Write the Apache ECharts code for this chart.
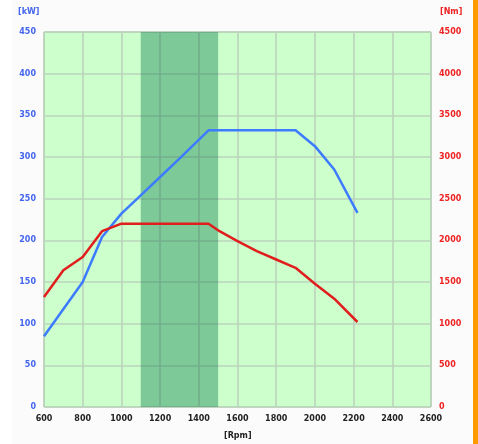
<!DOCTYPE html>
<html><head><meta charset="utf-8">
<script src="https://cdn.jsdelivr.net/npm/echarts@6/dist/echarts.min.js"></script>
<style>html,body{margin:0;padding:0;background:#fff}#c{width:478px;height:444px}</style>
</head><body><div id="c"></div>
<script>
const powerRpm = [600, 800, 900, 1000, 1100, 1200, 1300, 1450, 1900, 2000, 2100, 2220];
const powerKW  = [85, 150, 204, 232, 254, 276, 298, 332, 332, 313, 285, 233];
const torqueRpm = [600, 700, 800, 900, 1000, 1450, 1500, 1600, 1700, 1800, 1900, 2000, 2100, 2220];
const torqueNm  = [1320, 1640, 1800, 2110, 2200, 2200, 2120, 1990, 1870, 1770, 1670, 1480, 1300, 1020];
const rpmTicks = [600, 800, 1000, 1200, 1400, 1600, 1800, 2000, 2200, 2400, 2600];
const kwTicks = [0, 50, 100, 150, 200, 250, 300, 350, 400, 450];
const nmTicks = [0, 500, 1000, 1500, 2000, 2500, 3000, 3500, 4000, 4500];
const bandRange = [1100, 1500];

const chart = echarts.init(document.getElementById('c'), null, {renderer: 'canvas'});
const lblFont = {fontFamily: 'DejaVu Sans', fontWeight: 'bold', fontSize: 8};
const gridLine = {show: true, lineStyle: {color: '#bcd3bc', width: 1.6}};
const plain = v => String(v);
chart.setOption({
  animation: false,
  backgroundColor: '#fff',
  graphic: [
    {type: 'rect', shape: {x: 12, y: 0, width: 461, height: 444}, style: {fill: '#fbfbfb'}, z: -10},
    {type: 'rect', shape: {x: 473, y: 0, width: 5, height: 444}, style: {fill: '#ff9900'}, z: 10},
    {type: 'text', left: 18, top: 8, style: Object.assign({text: '[kW]', fill: '#4466ee'}, lblFont)},
    {type: 'text', left: 440, top: 8, style: Object.assign({text: '[Nm]', fill: '#ee2222'}, lblFont)},
    {type: 'text', left: 224, top: 432, style: Object.assign({text: '[Rpm]', fill: '#222'}, lblFont)}
  ],
  grid: {left: 44, right: 47, top: 32, bottom: 37, show: true, backgroundColor: '#ccffcc', borderColor: '#a3bda3', borderWidth: 1},
  xAxis: {
    type: 'value', min: rpmTicks[0], max: rpmTicks[rpmTicks.length - 1], interval: 200,
    axisLine: {show: false}, axisTick: {show: false},
    splitLine: gridLine,
    axisLabel: Object.assign({color: '#222', margin: 8, formatter: plain}, lblFont)
  },
  yAxis: [
    {type: 'value', min: 0, max: kwTicks[kwTicks.length - 1], interval: 50,
     axisLine: {show: false}, axisTick: {show: false}, splitLine: gridLine,
     axisLabel: Object.assign({color: '#4466ee', margin: 8, formatter: plain}, lblFont)},
    {type: 'value', min: 0, max: nmTicks[nmTicks.length - 1], interval: 500,
     axisLine: {show: false}, axisTick: {show: false}, splitLine: {show: false},
     axisLabel: Object.assign({color: '#ee2222', margin: 8, formatter: plain}, lblFont)}
  ],
  series: [
    {name: 'Power', type: 'line', yAxisIndex: 0, symbol: 'none', z: 3,
     lineStyle: {color: '#3d7bff', width: 2.5},
     data: powerRpm.map((r, i) => [r, powerKW[i]])},
    {name: 'Torque', type: 'line', yAxisIndex: 1, symbol: 'none', z: 3,
     lineStyle: {color: '#e01e1e', width: 2.5},
     data: torqueRpm.map((r, i) => [r, torqueNm[i]])},
    {name: 'band', type: 'line', yAxisIndex: 0, data: [], z: 5,
     markArea: {silent: true, itemStyle: {color: 'rgba(0,115,66,0.39)'},
       data: [[{xAxis: bandRange[0]}, {xAxis: bandRange[1]}]]}}
  ]
});
</script></body></html>
